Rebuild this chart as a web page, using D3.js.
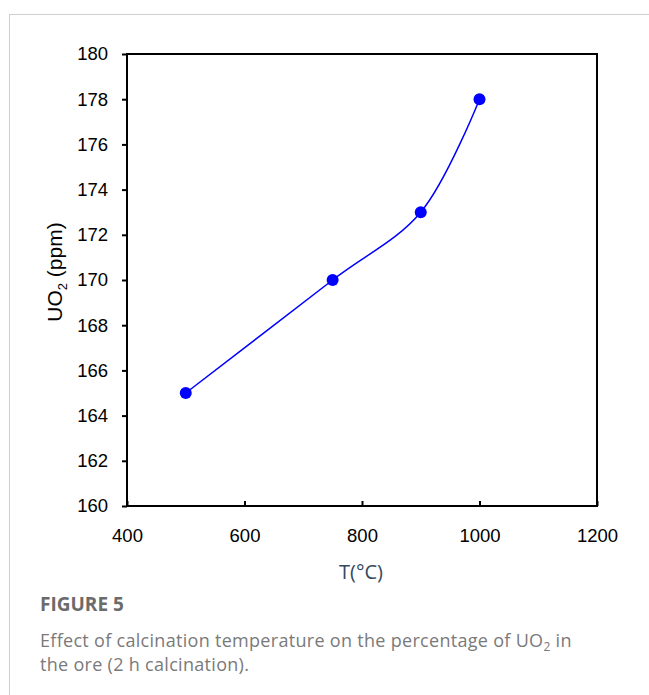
<!DOCTYPE html>
<html>
<head>
<meta charset="utf-8">
<script src="https://cdn.jsdelivr.net/npm/d3@7"></script>
<style>
  body { margin: 0; background: #fff; }
</style>
</head>
<body>
<svg id="chart" width="649" height="695"></svg>
<script>
// Data
const temps = [500, 750, 900, 1000];
const uo2 = [165, 170, 173, 178];
const xTicks = [400, 600, 800, 1000, 1200];
const yTicks = [160, 162, 164, 166, 168, 170, 172, 174, 176, 178, 180];

const svg = d3.select('#chart');

// Frame of the figure panel
svg.append('line').attr('x1', 9).attr('x2', 649).attr('y1', 14.5).attr('y2', 14.5)
    .attr('stroke', '#cfcfcf').attr('stroke-width', 1);
svg.append('line').attr('x1', 9.5).attr('x2', 9.5).attr('y1', 14).attr('y2', 695)
    .attr('stroke', '#cfcfcf').attr('stroke-width', 1);

// Plot area
const plot = { left: 127, right: 597, top: 54, bottom: 506 };
const x = d3.scaleLinear().domain([400, 1200]).range([plot.left, plot.right]);
const y = d3.scaleLinear().domain([160, 180]).range([plot.bottom, plot.top]);

const tickFont = "'Liberation Sans', Arial, sans-serif";

// y axis, ticks pointing outward
const yAxis = svg.append('g')
    .attr('transform', `translate(${plot.left},0)`)
    .call(d3.axisLeft(y).tickValues(yTicks).tickSize(5).tickPadding(14).tickFormat(d3.format('d')));
yAxis.select('.domain').remove();
yAxis.selectAll('line').attr('stroke', '#000').attr('stroke-width', 2);
yAxis.selectAll('text').attr('fill', '#000').style('font-size', '18.5px').style('font-family', tickFont);

// x axis, ticks pointing inward
const xAxis = svg.append('g')
    .attr('transform', `translate(0,${plot.bottom})`)
    .call(d3.axisBottom(x).tickValues(xTicks).tickSizeInner(-5).tickSizeOuter(0).tickFormat(d3.format('d')));
xAxis.select('.domain').remove();
xAxis.selectAll('line').attr('stroke', '#000').attr('stroke-width', 2);
xAxis.selectAll('text').attr('fill', '#000').attr('y', 23).style('font-size', '18.5px').style('font-family', tickFont);

// plot box
svg.append('rect')
    .attr('x', plot.left).attr('y', plot.top)
    .attr('width', plot.right - plot.left).attr('height', plot.bottom - plot.top)
    .attr('fill', 'none').attr('stroke', '#000').attr('stroke-width', 2);

// smoothed line
const pts = temps.map((t, i) => [t, uo2[i]]);
const line = d3.line()
    .x(d => x(d[0]))
    .y(d => y(d[1]))
    .curve(d3.curveCatmullRom.alpha(0.5));

svg.append('path')
    .datum(pts)
    .attr('d', line)
    .attr('fill', 'none')
    .attr('stroke', '#0000ff')
    .attr('stroke-width', 1.5);

svg.selectAll('.dot')
    .data(pts)
    .enter()
    .append('circle')
    .attr('class', 'dot')
    .attr('cx', d => x(d[0]))
    .attr('cy', d => y(d[1]))
    .attr('r', 6)
    .attr('fill', '#0000ff');

// axis titles
svg.append('text')
    .attr('x', 361)
    .attr('y', 579)
    .attr('text-anchor', 'middle')
    .attr('fill', '#34495e')
    .style('font-size', '20px')
    .style('font-family', "'Open Sans', sans-serif")
    .text('T(°C)');

const yTitle = svg.append('text')
    .attr('transform', 'translate(62,272) rotate(-90)')
    .attr('text-anchor', 'middle')
    .attr('fill', '#000')
    .style('font-size', '21px')
    .style('font-family', tickFont);
yTitle.append('tspan').text('UO');
yTitle.append('tspan').attr('dy', 5).style('font-size', '13px').text('2');
yTitle.append('tspan').attr('dy', -5).text(' (ppm)');

// caption
svg.append('text')
    .attr('x', 40).attr('y', 611)
    .attr('fill', '#6b6b6b')
    .style('font-size', '19px')
    .style('font-weight', 'bold')
    .style('font-family', "'Open Sans', sans-serif")
    .text('FIGURE 5');

const cap1 = svg.append('text')
    .attr('x', 40).attr('y', 647)
    .attr('fill', '#7a7a7a')
    .style('font-size', '18px')
    .style('letter-spacing', '0.3px')
    .style('font-family', "'Open Sans', sans-serif");
cap1.append('tspan').text('Effect of calcination temperature on the percentage of UO');
cap1.append('tspan').attr('dy', 4).style('font-size', '12px').text('2');
cap1.append('tspan').attr('dy', -4).text(' in');

svg.append('text')
    .attr('x', 40).attr('y', 671)
    .attr('fill', '#7a7a7a')
    .style('font-size', '18px')
    .style('letter-spacing', '0.3px')
    .style('font-family', "'Open Sans', sans-serif")
    .text('the ore (2 h calcination).');
</script>
</body>
</html>
